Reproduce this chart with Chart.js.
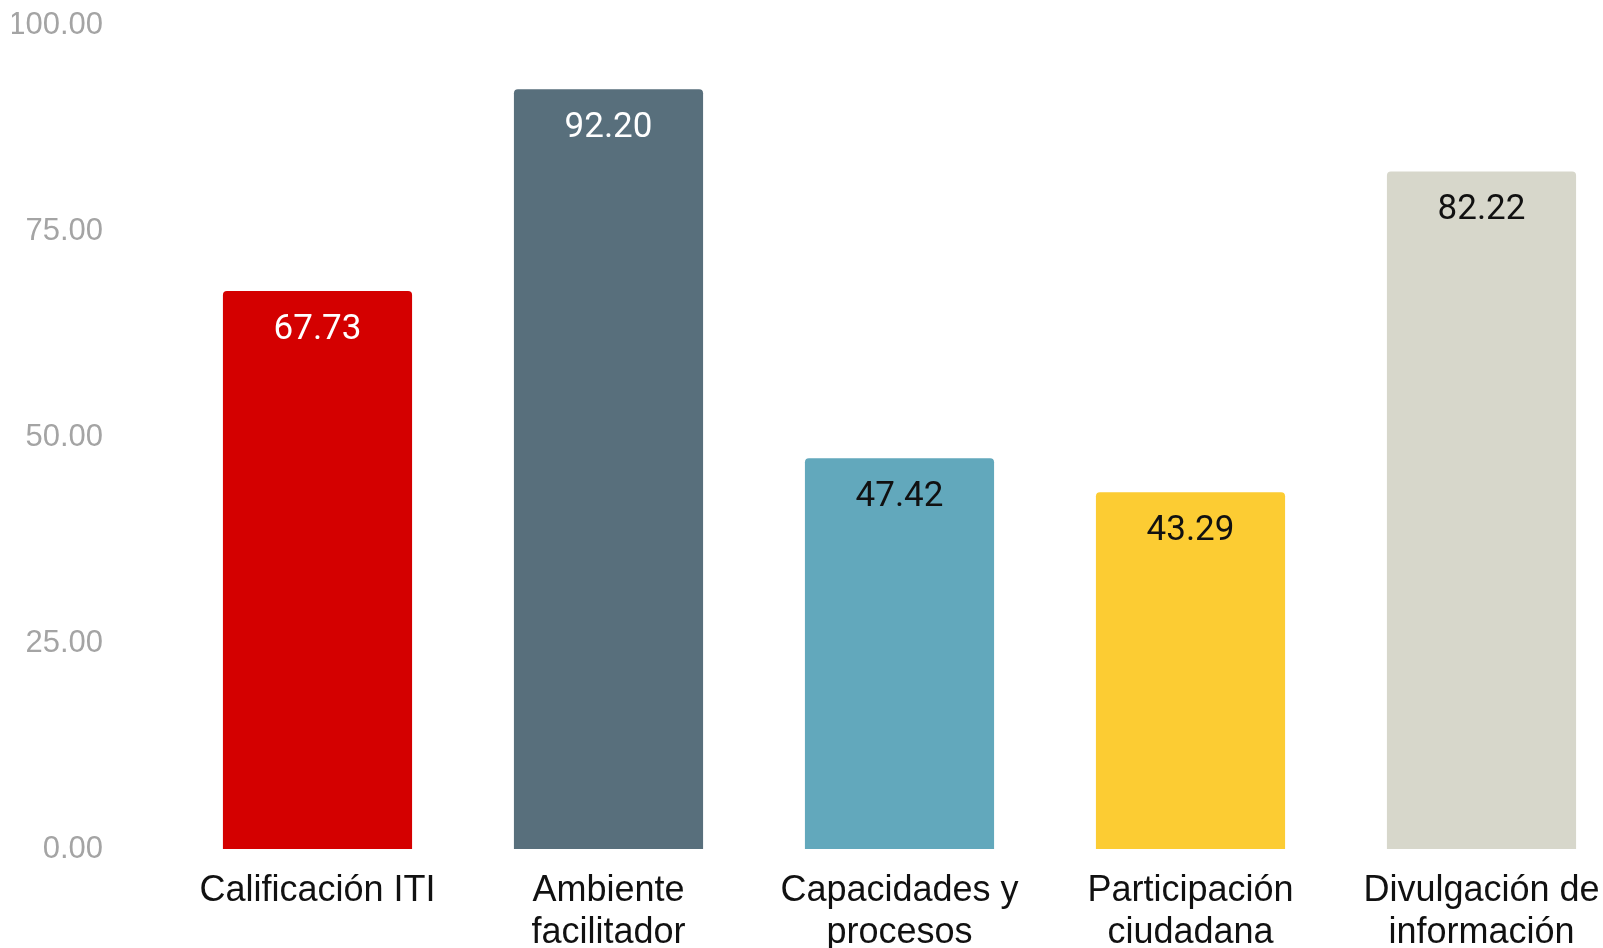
<!DOCTYPE html>
<html>
<head>
<meta charset="utf-8">
<script src="https://cdn.jsdelivr.net/npm/chart.js@4"></script>
<style>
  html, body { margin: 0; padding: 0; background: #fff; overflow: hidden; }
  #wrap { width: 1630px; height: 951px; position: relative; }
</style>
</head>
<body>
<div id="wrap"><canvas id="itiChart"></canvas></div>
<script>
const categories = [
  ['Calificación ITI'],
  ['Ambiente', 'facilitador'],
  ['Capacidades y', 'procesos'],
  ['Participación', 'ciudadana'],
  ['Divulgación de', 'información']
];
const scores = [67.73, 92.20, 47.42, 43.29, 82.22];
const barColors = ['#d40000', '#586f7c', '#62a8bc', '#fccc33', '#d7d7cb'];
const labelColors = ['#ffffff', '#ffffff', '#111111', '#111111', '#111111'];
const yTicks = [0, 25, 50, 75, 100];

// values written inside the top of each bar
const valueLabels = {
  id: 'valueLabels',
  afterDatasetsDraw(chart) {
    const ctx = chart.ctx;
    const meta = chart.getDatasetMeta(0);
    ctx.save();
    ctx.font = '35px Roboto, "Liberation Sans", Arial, sans-serif';
    ctx.textAlign = 'center';
    ctx.textBaseline = 'middle';
    meta.data.forEach((bar, i) => {
      ctx.fillStyle = labelColors[i];
      ctx.fillText(scores[i].toFixed(2), bar.x, bar.y + 39);
    });
    ctx.restore();
  }
};

const ctx = document.getElementById('itiChart').getContext('2d');
new Chart(ctx, {
  type: 'bar',
  data: {
    labels: categories,
    datasets: [{
      data: scores,
      backgroundColor: barColors,
      borderRadius: { topLeft: 4, topRight: 4, bottomLeft: 0, bottomRight: 0 },
      borderSkipped: false,
      barPercentage: 0.65,
      categoryPercentage: 1.0
    }]
  },
  options: {
    responsive: true,
    maintainAspectRatio: false,
    animation: false,
    layout: { padding: { left: 12, top: 25, right: 3, bottom: 0 } },
    plugins: {
      legend: { display: false },
      tooltip: { enabled: false }
    },
    scales: {
      x: {
        grid: { display: false },
        border: { display: false },
        afterFit: (axis) => { axis.height = 102; },
        ticks: {
          color: '#111111',
          padding: 13,
          maxRotation: 0,
          autoSkip: false,
          font: { family: '"Liberation Sans", Arial, sans-serif', size: 36, lineHeight: 1.17 }
        }
      },
      y: {
        min: 0,
        max: 100,
        grid: { display: false },
        border: { display: false },
        afterBuildTicks: (axis) => { axis.ticks = yTicks.map(v => ({ value: v })); },
        afterFit: (axis) => {
          axis.width = 160;
          axis.paddingTop = 15;
          axis.paddingBottom = 15;
        },
        ticks: {
          color: '#a4a4a4',
          padding: 61,
          font: { family: '"Liberation Sans", Arial, sans-serif', size: 31 },
          callback: (v) => Number(v).toFixed(2)
        }
      }
    }
  },
  plugins: [valueLabels]
});
</script>
</body>
</html>
